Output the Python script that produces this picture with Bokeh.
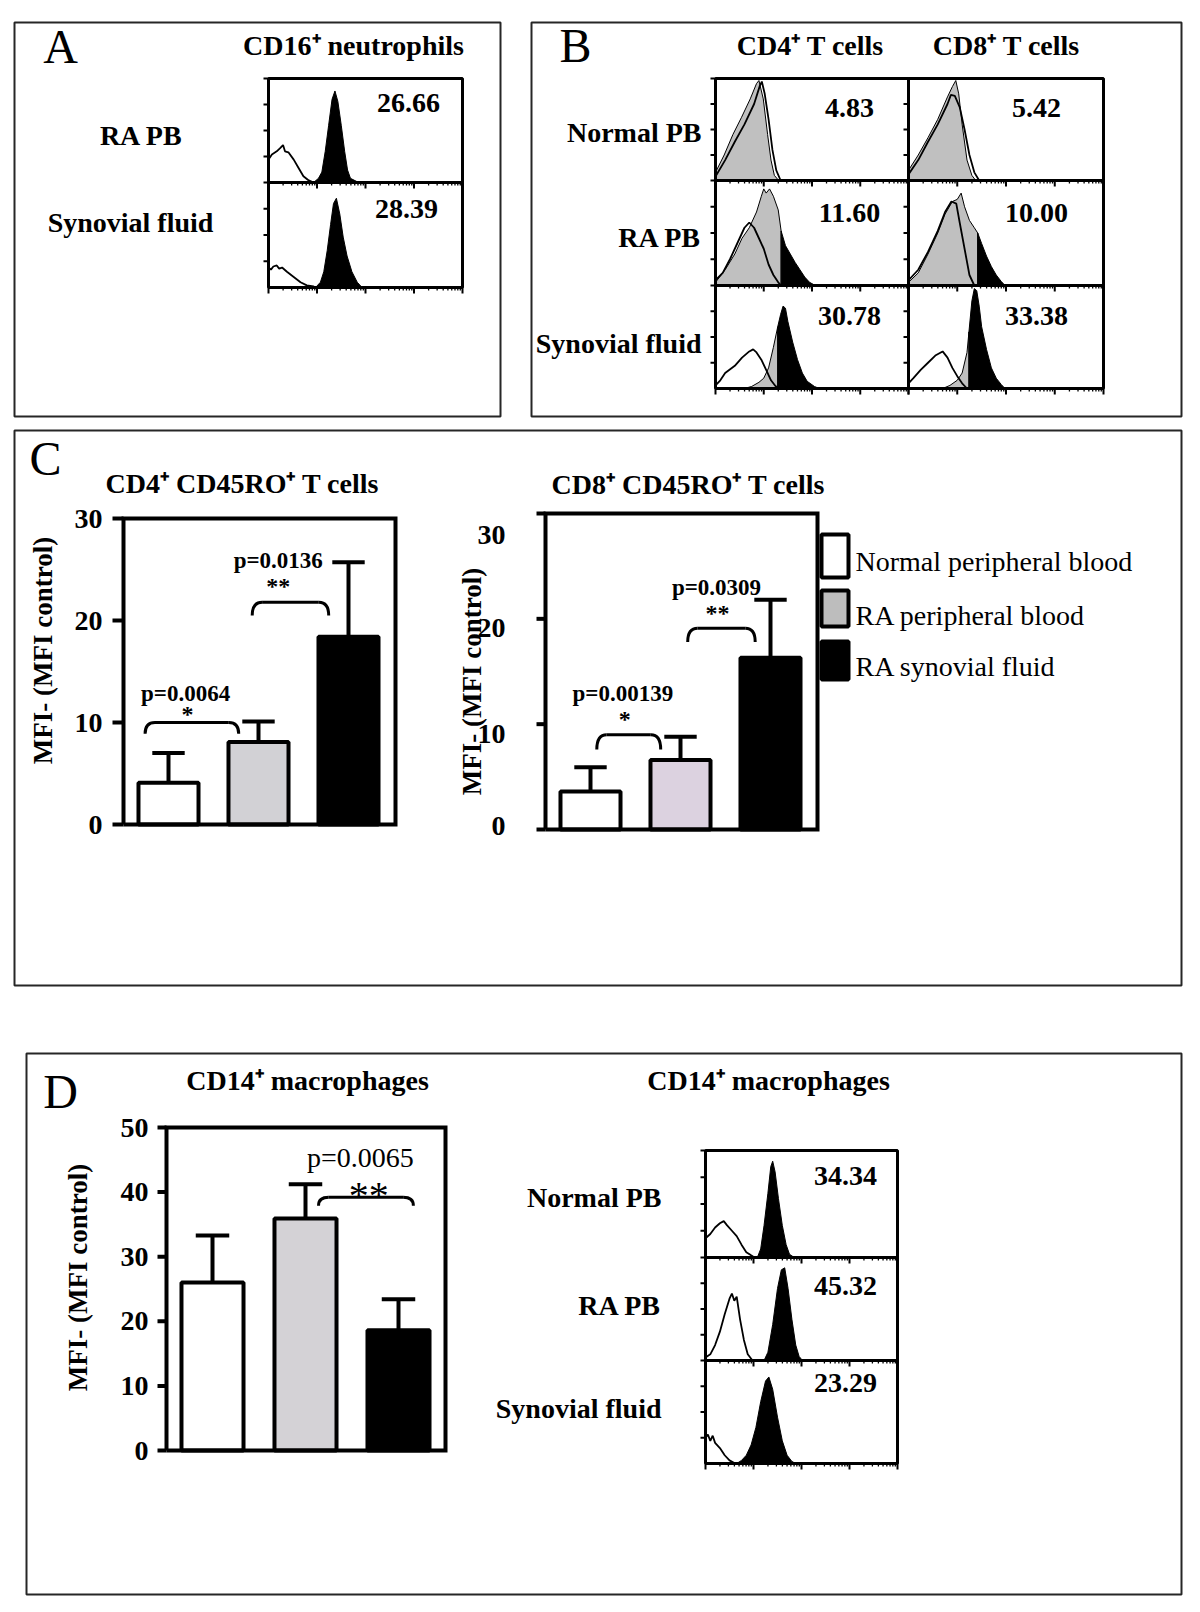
import math
from bokeh.plotting import figure
from bokeh.models import Range1d
from bokeh.embed import file_html
from bokeh.resources import INLINE
from bokeh.core.properties import value

# ============================ DATA ============================
group_names = ["Normal peripheral blood", "RA peripheral blood", "RA synovial fluid"]
group_idx = [0, 1, 2]

# Panel C bar charts (MFI - MFI control)
cd4_ro_mean = [4.1, 8.1, 18.4]
cd4_ro_err = [2.9, 2.0, 7.3]
cd8_ro_mean = [3.6, 6.6, 16.3]
cd8_ro_err = [2.3, 2.2, 5.5]
# Panel D bar chart
cd14_mean = [26.0, 35.9, 18.6]
cd14_err = [7.3, 5.3, 4.8]

c_ticks = [0, 10, 20, 30]
d_ticks = [0, 10, 20, 30, 40, 50]

# significance annotations: bracket level, p text, p text level, stars, star level
cd4_sig_level = [10.0, 21.8]
cd4_sig_p = ["p=0.0064", "p=0.0136"]
cd4_sig_p_level = [12.8, 25.9]
cd4_sig_star = ["*", "**"]
cd4_sig_star_level = [10.8, 23.4]

cd8_sig_level = [9.0, 19.1]
cd8_sig_p = ["p=0.00139", "p=0.0309"]
cd8_sig_p_level = [12.9, 23.0]
cd8_sig_star = ["*", "**"]
cd8_sig_star_level = [10.5, 20.6]

cd14_sig_level = [39.2]
cd14_sig_p = ["p=0.0065"]
cd14_sig_p_level = [45.4]
cd14_sig_star = ["**"]
cd14_sig_star_level = [39.4]

# Flow-cytometry histograms: x in log decades (0-4), y as fraction of the panel height
A_rows = ["RA PB", "Synovial fluid"]
A_values = ["26.66", "28.39"]
A_ctrl = [
    [(0, 0.22), (0.07, 0.27), (0.17, 0.30), (0.24, 0.33), (0.30, 0.36), (0.34, 0.30), (0.41, 0.29),
     (0.52, 0.22), (0.62, 0.14), (0.72, 0.06), (0.83, 0.02), (0.93, 0.0)],
    [(0, 0.19), (0.05, 0.17), (0.10, 0.20), (0.17, 0.21), (0.22, 0.18), (0.28, 0.19), (0.38, 0.15),
     (0.52, 0.10), (0.66, 0.05), (0.79, 0.02), (0.93, 0.01), (0.97, 0.0)],
]
A_stain = [
    [(0.93, 0), (1.03, 0.04), (1.10, 0.10), (1.17, 0.30), (1.24, 0.55), (1.31, 0.80), (1.37, 0.88),
     (1.43, 0.78), (1.50, 0.55), (1.57, 0.30), (1.63, 0.12), (1.69, 0.04), (1.86, 0)],
    [(0.97, 0), (1.07, 0.05), (1.14, 0.15), (1.21, 0.35), (1.28, 0.60), (1.34, 0.80), (1.40, 0.85),
     (1.47, 0.70), (1.54, 0.48), (1.62, 0.30), (1.72, 0.15), (1.83, 0.05), (1.93, 0)],
]

B_rows = ["Normal PB", "RA PB", "Synovial fluid"]
B_cols = ["CD4\u207a T cells", "CD8\u207a T cells"]
B_values = [["4.83", "5.42"], ["11.60", "10.00"], ["30.78", "33.38"]]
B_gray = [
    [[(0, 0.08), (0.18, 0.25), (0.36, 0.45), (0.54, 0.62), (0.72, 0.80), (0.85, 0.95), (0.90, 0.98),
      (0.99, 0.80), (1.08, 0.45), (1.15, 0.20), (1.22, 0.05), (1.31, 0)],
     [(0, 0.10), (0.2, 0.25), (0.4, 0.42), (0.6, 0.60), (0.8, 0.82), (0.9, 0.92), (0.97, 0.98),
      (1.03, 0.85), (1.10, 0.55), (1.20, 0.20), (1.30, 0.05), (1.38, 0)]],
    [[(0, 0.03), (0.2, 0.15), (0.4, 0.30), (0.55, 0.45), (0.7, 0.55), (0.85, 0.70), (0.95, 0.85),
      (1.0, 0.92), (1.05, 0.88), (1.12, 0.92), (1.2, 0.85), (1.3, 0.72), (1.36, 0.52)],
     [(0, 0.03), (0.2, 0.12), (0.4, 0.30), (0.6, 0.50), (0.75, 0.68), (0.9, 0.80), (1.0, 0.82),
      (1.08, 0.88), (1.15, 0.75), (1.25, 0.62), (1.35, 0.55), (1.42, 0.50)]],
    [[(0.6, 0), (0.75, 0.02), (0.9, 0.06), (1.0, 0.10), (1.1, 0.20), (1.2, 0.40), (1.29, 0.60)],
     [(0.7, 0), (0.85, 0.03), (1.0, 0.08), (1.1, 0.15), (1.2, 0.35), (1.24, 0.55)]],
]
B_black = [
    [[], []],
    [[(1.36, 0.52), (1.45, 0.38), (1.55, 0.30), (1.65, 0.22), (1.75, 0.15), (1.85, 0.08), (1.95, 0.03), (2.07, 0)],
     [(1.42, 0.50), (1.5, 0.40), (1.6, 0.28), (1.7, 0.18), (1.8, 0.10), (1.9, 0.04), (1.98, 0)]],
    [[(1.29, 0.60), (1.35, 0.72), (1.4, 0.80), (1.45, 0.78), (1.5, 0.65), (1.6, 0.45), (1.7, 0.28),
      (1.8, 0.15), (1.9, 0.07), (2.05, 0.02), (2.15, 0)],
     [(1.24, 0.55), (1.3, 0.85), (1.35, 0.97), (1.4, 0.95), (1.45, 0.80), (1.5, 0.60), (1.6, 0.38),
      (1.7, 0.20), (1.8, 0.10), (1.9, 0.04), (1.98, 0)]],
]
B_ctrl = [
    [[(0, 0.04), (0.2, 0.2), (0.4, 0.38), (0.6, 0.55), (0.8, 0.75), (0.92, 0.93), (0.96, 0.97),
      (1.02, 0.85), (1.10, 0.60), (1.18, 0.30), (1.26, 0.10), (1.35, 0)],
     [(0, 0.06), (0.2, 0.2), (0.4, 0.38), (0.6, 0.55), (0.8, 0.75), (0.87, 0.84), (0.95, 0.83),
      (1.05, 0.72), (1.15, 0.50), (1.25, 0.25), (1.35, 0.08), (1.45, 0)]],
    [[(0, 0.05), (0.15, 0.12), (0.3, 0.25), (0.45, 0.40), (0.6, 0.55), (0.7, 0.60), (0.8, 0.55),
      (0.9, 0.45), (1.0, 0.35), (1.1, 0.20), (1.2, 0.10), (1.3, 0.03), (1.36, 0)],
     [(0, 0.05), (0.2, 0.15), (0.4, 0.32), (0.6, 0.52), (0.75, 0.70), (0.88, 0.80), (0.98, 0.78),
      (1.05, 0.60), (1.15, 0.35), (1.25, 0.10), (1.35, 0)]],
    [[(0, 0.03), (0.1, 0.08), (0.2, 0.15), (0.4, 0.22), (0.55, 0.30), (0.7, 0.36), (0.78, 0.38),
      (0.85, 0.35), (0.95, 0.28), (1.05, 0.18), (1.15, 0.08), (1.25, 0.02), (1.35, 0)],
     [(0, 0.05), (0.1, 0.10), (0.25, 0.18), (0.4, 0.25), (0.55, 0.32), (0.7, 0.36), (0.8, 0.30),
      (0.9, 0.20), (1.0, 0.12), (1.1, 0.05), (1.2, 0)]],
]

D_rows = ["Normal PB", "RA PB", "Synovial fluid"]
D_values = ["34.34", "45.32", "23.29"]
D_ctrl = [
    [(0, 0.18), (0.1, 0.22), (0.2, 0.28), (0.3, 0.32), (0.38, 0.34), (0.45, 0.30), (0.55, 0.25),
     (0.65, 0.20), (0.75, 0.12), (0.85, 0.05), (0.95, 0.02), (1.02, 0)],
    [(0, 0.03), (0.1, 0.06), (0.2, 0.15), (0.3, 0.28), (0.4, 0.45), (0.5, 0.60), (0.55, 0.65),
     (0.6, 0.58), (0.65, 0.62), (0.72, 0.40), (0.8, 0.20), (0.88, 0.06), (0.98, 0)],
    [(0, 0.25), (0.05, 0.28), (0.1, 0.22), (0.15, 0.27), (0.2, 0.20), (0.3, 0.15), (0.4, 0.08),
     (0.5, 0.03), (0.62, 0)],
]
D_stain = [
    [(1.08, 0), (1.15, 0.08), (1.22, 0.30), (1.30, 0.60), (1.36, 0.85), (1.40, 0.90), (1.45, 0.80),
     (1.52, 0.55), (1.60, 0.30), (1.68, 0.12), (1.75, 0.03), (1.85, 0)],
    [(1.22, 0), (1.30, 0.08), (1.40, 0.35), (1.50, 0.70), (1.58, 0.88), (1.65, 0.90), (1.72, 0.70),
     (1.80, 0.40), (1.88, 0.15), (1.95, 0.04), (2.02, 0)],
    [(0.65, 0), (0.75, 0.03), (0.85, 0.08), (0.95, 0.18), (1.05, 0.35), (1.15, 0.60), (1.25, 0.80),
     (1.32, 0.84), (1.40, 0.72), (1.50, 0.45), (1.60, 0.22), (1.70, 0.08), (1.80, 0.02), (1.88, 0)],
]

# ============================ CANVAS ============================
FX0, FX1, FY0, FY1 = 0.0, 1184.0, 0.0, 1596.0
p = figure(width=1184, height=1596, x_range=Range1d(FX0, FX1), y_range=Range1d(FY1, FY0),
           output_backend="svg", toolbar_location=None, x_axis_type=None, y_axis_type=None,
           background_fill_color="white", border_fill_color="white")
p.min_border_left = p.min_border_right = p.min_border_top = p.min_border_bottom = 0
p.outline_line_color = None

XR, YR = {}, {}


def x_range_for(px_a, v_a, px_b, v_b):
    k = (px_b - px_a) / (v_b - v_a)
    return Range1d(start=v_a + (FX0 - px_a) / k, end=v_a + (FX1 - px_a) / k)


def y_range_for(px_a, v_a, px_b, v_b):
    k = (px_b - px_a) / (v_b - v_a)
    return Range1d(start=v_a + (FY1 - px_a) / k, end=v_a + (FY0 - px_a) / k)


SERIF = value("Liberation Serif")
LBL = 28  # main bold text size


def txt(x, y, s, size, bold=True, align="center", baseline="middle", angle=0.0,
        xr="default", yr="default"):
    p.text(x=[x], y=[y], text=[s], text_font=SERIF, text_font_size=f"{size}px",
           text_font_style="bold" if bold else "normal", text_align=align,
           text_baseline=baseline, angle=angle, text_color="black",
           x_range_name=xr, y_range_name=yr)


# ---- panel boxes ----
BOX_COLOR = "#262626"
for (l, t, r, b) in [(14, 22, 500, 416), (531, 22, 1181, 416), (14, 430, 1181, 985), (26, 1053, 1181, 1594)]:
    p.quad(left=[l], right=[r], top=[t], bottom=[b], fill_color=None, line_color=BOX_COLOR, line_width=2)

# ---- panel letters ----
for letter, (lx, ly) in zip("ABCD", [(60, 46), (575, 45), (45, 458), (60, 1091)]):
    txt(lx, ly, letter, 48, bold=False)


# ============================ HISTOGRAMS ============================
MINOR = [math.log10(m) for m in range(2, 10)]


def hist_cell(xn, yn, left, right, top, bottom, ctrl, gray=None, black=None):
    if gray:
        gx = [pt[0] for pt in gray]
        gy = [pt[1] for pt in gray]
        p.patch(x=[gx[0]] + gx + [gx[-1]], y=[0] + gy + [0], fill_color="#c0c0c0",
                line_color="black", line_width=1, x_range_name=xn, y_range_name=yn)
    if black:
        bx = [pt[0] for pt in black]
        by = [pt[1] for pt in black]
        p.patch(x=[bx[0]] + bx + [bx[-1]], y=[0] + by + [0], fill_color="black",
                line_color="black", line_width=1, x_range_name=xn, y_range_name=yn)
    cx = [pt[0] for pt in ctrl]
    cy = [pt[1] for pt in ctrl]
    p.line(x=cx, y=cy, line_color="black", line_width=1.8, x_range_name=xn, y_range_name=yn)
    # frame
    p.quad(left=[left], right=[right], top=[top], bottom=[bottom], fill_color=None,
           line_color="black", line_width=3)
    # left ticks
    fr = [0.25, 0.5, 0.75, 1.0]
    p.segment(x0=[left - 5] * 4, x1=[left] * 4, y0=fr, y1=fr, line_color="black",
              line_width=2, y_range_name=yn)
    # bottom ticks (log decades)
    maj = [0, 1, 2, 3, 4]
    p.segment(x0=maj, x1=maj, y0=[bottom] * 5, y1=[bottom + 6] * 5, line_color="black",
              line_width=2, x_range_name=xn)
    mn = [d + m for d in range(4) for m in MINOR]
    p.segment(x0=mn, x1=mn, y0=[bottom] * len(mn), y1=[bottom + 3] * len(mn),
              line_color="black", line_width=1.3, x_range_name=xn)


# ---- Panel A ----
A_left, A_right = 268, 462
A_edges = [78, 182, 287]
XR["hA"] = x_range_for(A_left, 0, A_right, 4)
txt(353, 45, "CD16\u207a neutrophils", LBL)
A_label_pos = [(141, 135), (130, 222)]
A_value_pos = [(408, 102), (406, 208)]
for r in range(2):
    yn = f"hA{r}"
    YR[yn] = y_range_for(A_edges[r + 1], 0, A_edges[r], 1)
    hist_cell("hA", yn, A_left, A_right, A_edges[r], A_edges[r + 1], A_ctrl[r], black=A_stain[r])
    txt(*A_label_pos[r], A_rows[r], LBL)
    txt(*A_value_pos[r], A_values[r], LBL)

# ---- Panel B ----
B_xedges = [715, 908, 1103]
B_yedges = [78, 180, 285, 388]
B_title_x = [810, 1006]
B_value_x = [849, 1036]
B_value_y = [107, 212, 315]
B_label_y = [132, 237, 343]
for c in range(2):
    XR[f"hB{c}"] = x_range_for(B_xedges[c], 0, B_xedges[c + 1], 4)
    txt(B_title_x[c], 45, B_cols[c], LBL)
for r in range(3):
    yn = f"hB{r}"
    YR[yn] = y_range_for(B_yedges[r + 1], 0, B_yedges[r], 1)
    txt(701, B_label_y[r], B_rows[r], LBL, align="right")
    for c in range(2):
        hist_cell(f"hB{c}", yn, B_xedges[c], B_xedges[c + 1], B_yedges[r], B_yedges[r + 1],
                  B_ctrl[r][c], gray=B_gray[r][c], black=B_black[r][c])
        txt(B_value_x[c], B_value_y[r], B_values[r][c], LBL)

# ---- Panel D histograms ----
D_left, D_right = 705, 897
D_edges = [1150, 1257, 1360, 1463]
XR["hD"] = x_range_for(D_left, 0, D_right, 4)
txt(768, 1080, "CD14\u207a macrophages", LBL)
D_label_y = [1197, 1305, 1408]
D_value_y = [1175, 1285, 1382]
for r in range(3):
    yn = f"hD{r}"
    YR[yn] = y_range_for(D_edges[r + 1], 0, D_edges[r], 1)
    hist_cell("hD", yn, D_left, D_right, D_edges[r], D_edges[r + 1], D_ctrl[r], black=D_stain[r])
    txt(661, D_label_y[r], D_rows[r], LBL, align="right")
    txt(845, D_value_y[r], D_values[r], LBL)


# ============================ BAR CHARTS ============================
def bar_chart(key, means, errs, ticks, fills, px_bar0, px_step, px_left, px_right,
              px_zero, px_top, v_top, tick_len, label_right, label_offsets,
              sig_level, sig_p, sig_p_level, sig_star, sig_star_level,
              sig_span, sig_drop, sig_p_x, sig_star_x, p_size, p_bold, star_size, star_bold):
    xn, yn = key + "x", key + "y"
    XR[xn] = x_range_for(px_bar0, 0, px_bar0 + px_step, 1)
    YR[yn] = y_range_for(px_zero, 0, px_top, v_top)
    k = (px_zero - px_top) / v_top  # px per unit
    # bars
    p.vbar(x=group_idx, width=0.667, top=means, bottom=0, fill_color=fills,
           line_color="black", line_width=4, x_range_name=xn, y_range_name=yn)
    # error bars
    tops = [m + e for m, e in zip(means, errs)]
    p.segment(x0=group_idx, x1=group_idx, y0=means, y1=tops, line_color="black",
              line_width=4, x_range_name=xn, y_range_name=yn)
    p.segment(x0=[i - 0.18 for i in group_idx], x1=[i + 0.18 for i in group_idx], y0=tops,
              y1=tops, line_color="black", line_width=4, x_range_name=xn, y_range_name=yn)
    # frame
    p.line(x=[px_left, px_left, px_right, px_right, px_left], y=[0, v_top, v_top, 0, 0],
           line_color="black", line_width=4, line_join="miter", y_range_name=yn)
    p.segment(x0=[px_left - tick_len] * len(ticks), x1=[px_left] * len(ticks), y0=ticks,
              y1=ticks, line_color="black", line_width=4, y_range_name=yn)
    for t, off in zip(ticks, label_offsets):
        txt(label_right, t - off / k, str(t), LBL, align="right", yr=yn)
    # significance
    for n in range(len(sig_level)):
        x0, x1 = sig_span[n]
        lv, dr = sig_level[n], sig_drop[n]
        txt(sig_p_x[n], sig_p_level[n], sig_p[n], p_size, bold=p_bold, xr=xn, yr=yn)
        txt(sig_star_x[n], sig_star_level[n], sig_star[n], star_size, bold=star_bold,
            baseline="alphabetic", xr=xn, yr=yn)
        w = 0.11
        p.quadratic(x0=[x0, x1], y0=[dr, dr], x1=[x0 + w, x1 - w], y1=[lv, lv],
                    cx=[x0, x1], cy=[lv, lv], line_color="black", line_width=3,
                    x_range_name=xn, y_range_name=yn)
        p.segment(x0=[x0 + w], x1=[x1 - w], y0=[lv], y1=[lv], line_color="black",
                  line_width=3, x_range_name=xn, y_range_name=yn)


# ---- Panel C ----
txt(242, 483, "CD4\u207a CD45RO\u207a T cells", LBL)
txt(688, 484, "CD8\u207a CD45RO\u207a T cells", LBL)

bar_chart("c1", cd4_ro_mean, cd4_ro_err, c_ticks, ["white", "#d2d1d5", "black"],
          168, 90, 123, 395, 824, 518, 30, 11, 102, [0, 0, 0, 0],
          cd4_sig_level, cd4_sig_p, cd4_sig_p_level, cd4_sig_star, cd4_sig_star_level,
          [(-0.26, 0.78), (0.93, 1.78)], [8.9, 20.5], [0.19, 1.22], [0.21, 1.22],
          23, True, 24, True)
txt(42, 650, "MFI- (MFI control)", 27, angle=math.pi / 2)

bar_chart("c2", cd8_ro_mean, cd8_ro_err, c_ticks, ["white", "#dcd2e0", "black"],
          590, 90, 545, 817, 829, 513, 30, 9, 505, [-4, 10, 9, 21],
          cd8_sig_level, cd8_sig_p, cd8_sig_p_level, cd8_sig_star, cd8_sig_star_level,
          [(0.07, 0.78), (1.08, 1.83)], [7.6, 17.8], [0.36, 1.40], [0.38, 1.41],
          23, True, 24, True)
txt(471, 681, "MFI- (MFI control)", 27, angle=math.pi / 2)

# legend
leg_boxes = [(534, 577), (590, 626), (641, 679)]
leg_fill = ["white", "#bdbdbd", "black"]
leg_text_y = [561, 615, 666]
for n in range(3):
    t, b = leg_boxes[n]
    p.quad(left=[821], right=[848], top=[t], bottom=[b], fill_color=leg_fill[n],
           line_color="black", line_width=4)
    txt(855, leg_text_y[n], group_names[n], 28, bold=False, align="left")

# ---- Panel D bars ----
txt(307, 1080, "CD14\u207a macrophages", LBL)
bar_chart("d1", cd14_mean, cd14_err, d_ticks, ["white", "#d4d2d6", "black"],
          212, 93, 166, 445, 1450, 1127, 50, 9, 148, [0] * 6,
          cd14_sig_level, cd14_sig_p, cd14_sig_p_level, cd14_sig_star, cd14_sig_star_level,
          [(1.14, 2.16)], [37.9], [1.59], [1.68], 28, False, 40, False)
txt(77, 1277, "MFI- (MFI control)", 27, angle=math.pi / 2)

p.extra_x_ranges = XR
p.extra_y_ranges = YR

open("out.html", "w").write(file_html(p, INLINE))
